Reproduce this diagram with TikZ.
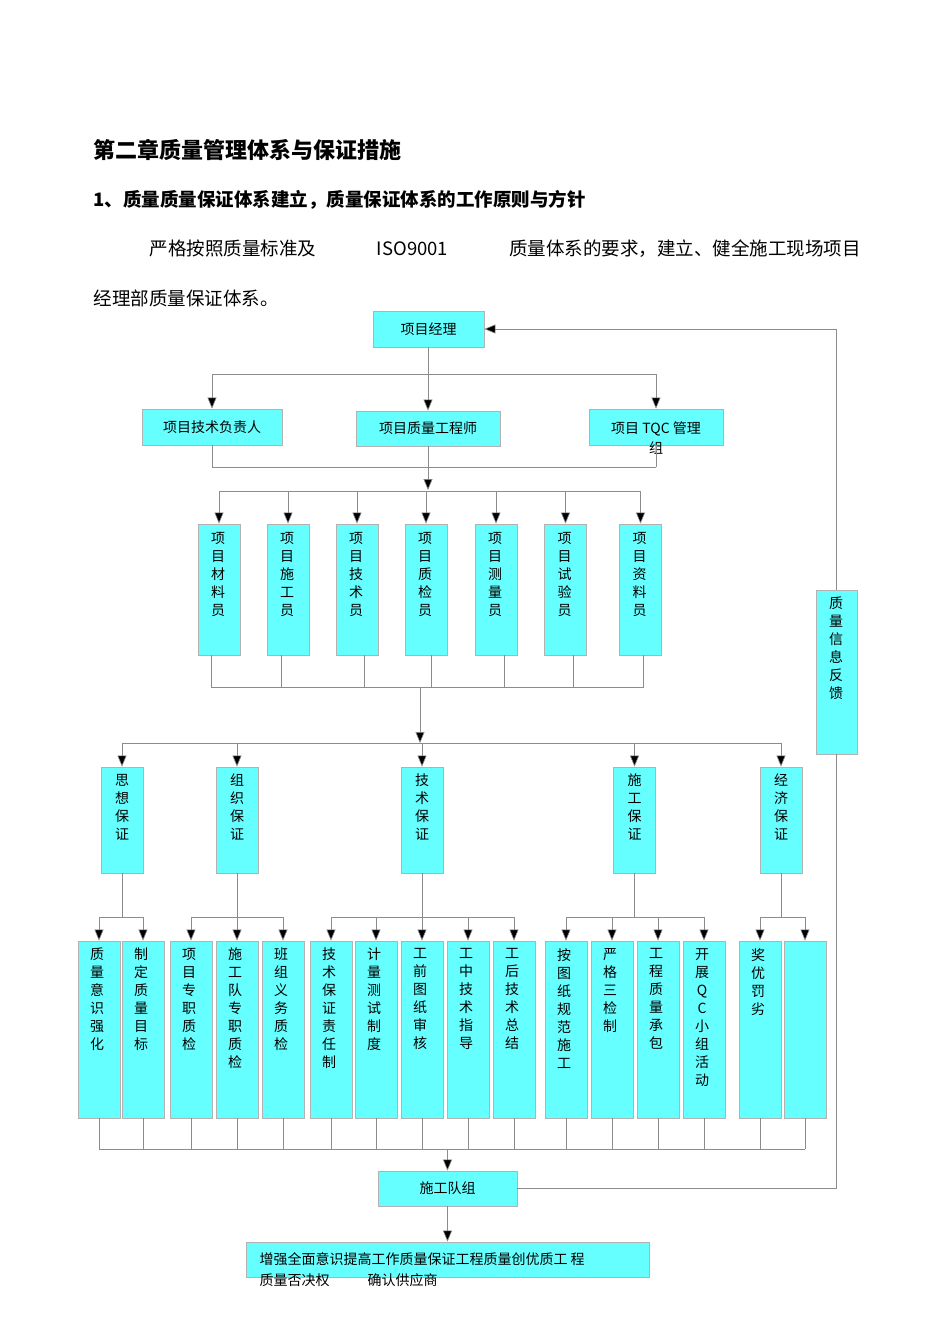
\documentclass[tikz,border=0pt]{standalone}
\usepackage{fontspec}
\setmainfont{Noto Sans CJK SC}
\XeTeXlinebreaklocale "zh"
\XeTeXlinebreakskip=0pt plus 8pt
\usetikzlibrary{arrows.meta}
\definecolor{boxfill}{RGB}{102,255,255}
\begin{document}
\begin{tikzpicture}[x=1pt,y=-1pt,
 box/.style={draw=black!30,fill=boxfill,line width=0.8pt,inner sep=0pt},
 ln/.style={draw=black!45,line width=0.6pt},
 ar/.style={ln,-{Triangle[length=11pt,width=9pt,fill=black]}},
 vt/.style={anchor=north,align=center,font=\fontsize{14}{18}\selectfont,inner sep=0pt},
 ht/.style={font=\fontsize{14}{17}\selectfont}]
\useasboundingbox (0,0) rectangle (950,1344);
\node[anchor=west,font=\fontsize{22}{26}\selectfont\bfseries] (t1) at (90,150) {第二章质量管理体系与保证措施};
\node[anchor=west,font=\fontsize{18.5}{22}\selectfont\bfseries] (t2) at (90,200) {\makebox[592pt][s]{1、质量质量保证体系建立，质量保证体系的工作原则与方针}};
\node[anchor=west,font=\fontsize{18.5}{22}\selectfont] (t3) at (146,249) {\makebox[711pt][s]{严格按照质量标准及 ISO9001 质量体系的要求，建立、健全施工现场项目}};
\node[anchor=west,font=\fontsize{18.5}{22}\selectfont] (t4) at (90,298) {\makebox[208pt][s]{经理部质量保证体系。}};
% level 1
\node[box,minimum width=111,minimum height=36,ht] (pm) at (428.5,329) {项目经理};
% level 2
\node[box,minimum width=140,minimum height=36,ht] (b1) at (212,427) {项目技术负责人};
\node[box,minimum width=144,minimum height=35,ht] (b2) at (428,428.5) {项目质量工程师};
\node[box,minimum width=134,minimum height=36] (b3) at (656,427) {};
\node[ht] (b3t) at (656,429) {项目 TQC 管理};
\node[ht] (b3u) at (656,448) {组};
\coordinate (y374) at (0,374);
\coordinate (y467) at (0,467);
\coordinate (y491) at (0,491);
\draw[ln] (pm.south) -- (pm.south |- y374);
\draw[ln] (b1.north |- y374) -- (b3.north |- y374);
\foreach \n in {b1,b2,b3} \draw[ar] (\n.north |- y374) -- (\n.north);
\foreach \n in {b1,b2,b3} \draw[ln] (\n.south) -- (\n.south |- y467);
\draw[ln] (b1.south |- y467) -- (b3.south |- y467);
\coordinate (m2) at (428,490);
\draw[ar] (b2.south |- y467) -- (m2);
% level 3
\foreach \i/\x/\t in {1/219/项\\目\\材\\料\\员,2/288/项\\目\\施\\工\\员,3/357/项\\目\\技\\术\\员,4/426/项\\目\\质\\检\\员,5/496/项\\目\\测\\量\\员,6/565.5/项\\目\\试\\验\\员,7/640.5/项\\目\\资\\料\\员}{
  \node[box,minimum width=42,minimum height=131] (c\i) at (\x,589.5) {};
  \node[vt] (ct\i) at (\x-1,532) {\t};
}
\draw[ln] (c1.north |- y491) -- (c7.north |- y491);
\foreach \i in {1,...,7} \draw[ar] (c\i.north |- y491) -- (c\i.north);
\coordinate (y687) at (0,687);
\coordinate (y743) at (0,743);
\foreach \i/\dx in {1/-8,2/-7,3/7,4/5,5/8,6/8,7/3} \draw[ln] ([xshift=\dx]c\i.south) -- ([xshift=\dx]c\i.south |- y687);
\draw[ln] ([xshift=-8]c1.south |- y687) -- ([xshift=3]c7.south |- y687);
\coordinate (m3) at (420,687);
\draw[ar] (m3) -- (m3 |- y743);
% level 4
\foreach \i/\x/\t in {1/122/思\\想\\保\\证,2/237/组\\织\\保\\证,3/422/技\\术\\保\\证,4/634.5/施\\工\\保\\证,5/781/经\\济\\保\\证}{
  \node[box,minimum width=42,minimum height=106] (d\i) at (\x,820) {};
  \node[vt] (dt\i) at (\x,774) {\t};
}
\draw[ln] (d1.north |- y743) -- (d5.north |- y743);
\foreach \i in {1,...,5} \draw[ar] (d\i.north |- y743) -- (d\i.north);
% level 5
\foreach \i/\x/\t in {1/99/质\\量\\意\\识\\强\\化,2/143/制\\定\\质\\量\\目\\标,3/191/项\\目\\专\\职\\质\\检,4/237/施\\工\\队\\专\\职\\质\\检,5/283/班\\组\\义\\务\\质\\检,6/331/技\\术\\保\\证\\责\\任\\制,7/376/计\\量\\测\\试\\制\\度,8/422/工\\前\\图\\纸\\审\\核,9/468/工\\中\\技\\术\\指\\导,10/514/工\\后\\技\\术\\总\\结,11/566/按\\图\\纸\\规\\范\\施\\工,12/612/严\\格\\三\\检\\制,13/658/工\\程\\质\\量\\承\\包,14/704/开\\展\\Q\\C\\小\\组\\活\\动,15/760/奖\\优\\罚\\劣,16/805/}{
  \node[box,minimum width=42,minimum height=177] (e\i) at (\x,1029.5) {};
  \node[vt] (et\i) at (\x-2,948) {\t};
}
\coordinate (y917) at (0,917);
\foreach \d/\a/\b in {1/1/2,2/3/5,3/6/10,4/11/14,5/15/16}{
  \draw[ln] (d\d.south) -- (d\d.south |- y917);
  \draw[ln] (e\a.north |- y917) -- (e\b.north |- y917);
  \foreach \k in {\a,...,\b} \draw[ar] (e\k.north |- y917) -- (e\k.north);
}
\coordinate (y1149) at (0,1149);
\foreach \i in {1,...,16} \draw[ln] (e\i.south) -- (e\i.south |- y1149);
\draw[ln] (e1.south |- y1149) -- (e16.south |- y1149);
\node[box,minimum width=139,minimum height=35,ht] (f) at (447.5,1188.5) {施工队组};
\draw[ar] (f.north |- y1149) -- (f.north);
\node[box,minimum width=403,minimum height=35] (g) at (447.5,1259.5) {};
\node[ht,anchor=west] (gt1) at (256,1259) {增强全面意识提高工作质量保证工程质量创优质工 程};
\node[ht,anchor=west] (gt2) at (256,1280) {质量否决权\hspace{38pt}确认供应商};
\draw[ar] (f.south) -- (g.north);
% feedback
\node[box,minimum width=41,minimum height=164] (fb) at (836.5,672) {};
\node[vt] (fbt) at (836,597) {质\\量\\信\\息\\反\\馈};
\draw[ln] (f.east) -| (fb.south);
\draw[ar] (fb.north) |- (pm.east);
\end{tikzpicture}
\end{document}
